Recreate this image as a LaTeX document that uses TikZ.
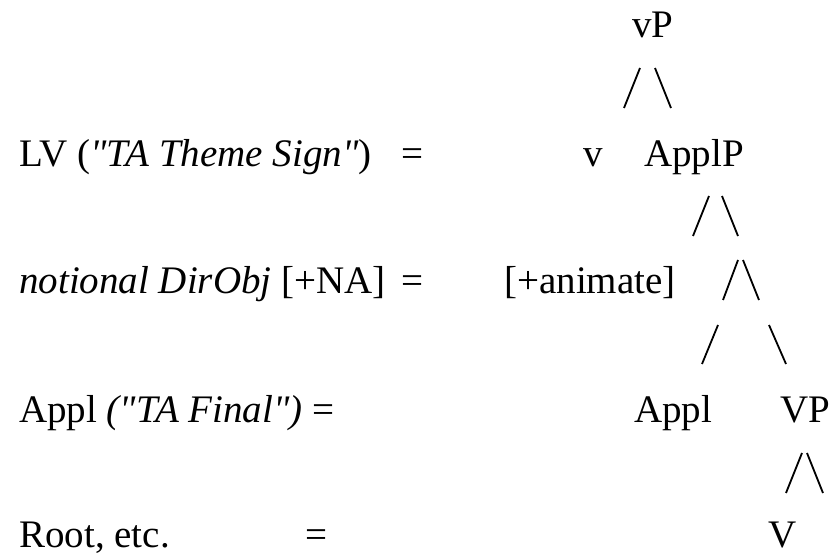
\documentclass[tikz,border=0pt]{standalone}
\usepackage{fontspec}
\setmainfont{Liberation Serif}[Ligatures=TeXOff]
\usetikzlibrary{positioning}
\newcommand{\treefont}{\fontsize{39}{46}\selectfont}
\tikzset{
  gloss/.style={anchor=base west,inner sep=0pt,font=\treefont},
  cat/.style={anchor=base,inner sep=0pt,font=\treefont},
  branch/.style={line width=1.8pt},
}
\begin{document}
\begin{tikzpicture}[x=1pt,y=-1pt]
\useasboundingbox (0,0) rectangle (832,556);

% Left column: what each head corresponds to.
\node[gloss] (glossLV)   at (19,167) {LV (\textit{"TA Theme Sign"})};
\node[gloss] (glossObj)  at (19,293) {\textit{notional DirObj} [+NA]};
\node[gloss] (glossAppl) at (19,422) {Appl \textit{("TA Final")} =};
\node[gloss] (glossRoot) at (19,547) {Root, etc.};

% Equals signs.
\node[cat] (eqLV)   at (412,167) {=};
\node[cat] (eqObj)  at (412,293) {=};
\node[cat] (eqRoot) at (316,547) {=};

% Tree labels.
\node[cat] (vP)      at (653,38)  {vP};
\node[cat] (v)       at (593,167) {v};
\node[cat] (ApplP)   at (694,167) {ApplP};
\node[cat] (animate) at (590,293) {[+animate]};
\node[cat] (Appl)    at (673,422) {Appl};
\node[cat] (VP)      at (805,422) {VP};
\node[cat] (V)       at (783,547) {V};

% Branch end points.
\coordinate (b1l) at (624,108); \coordinate (t1l) at (640,68);
\coordinate (t1r) at (655,68);  \coordinate (b1r) at (671,108);
\coordinate (b2l) at (693,236); \coordinate (t2l) at (709,196);
\coordinate (t2r) at (722,196); \coordinate (b2r) at (738,236);
\coordinate (b3l) at (723,300); \coordinate (t3l) at (738,260);
\coordinate (t3r) at (743,260); \coordinate (b3r) at (759,300);
\coordinate (b4l) at (702,364); \coordinate (t4l) at (718,325);
\coordinate (t4r) at (769,325); \coordinate (b4r) at (786,364);
\coordinate (b5l) at (786,493); \coordinate (t5l) at (802,453);
\coordinate (t5r) at (807,453); \coordinate (b5r) at (823,493);

% Slash-style branches.
\foreach \i in {1,...,5} {
  \draw[branch] (b\i l) -- (t\i l);
  \draw[branch] (t\i r) -- (b\i r);
}
\end{tikzpicture}
\end{document}
